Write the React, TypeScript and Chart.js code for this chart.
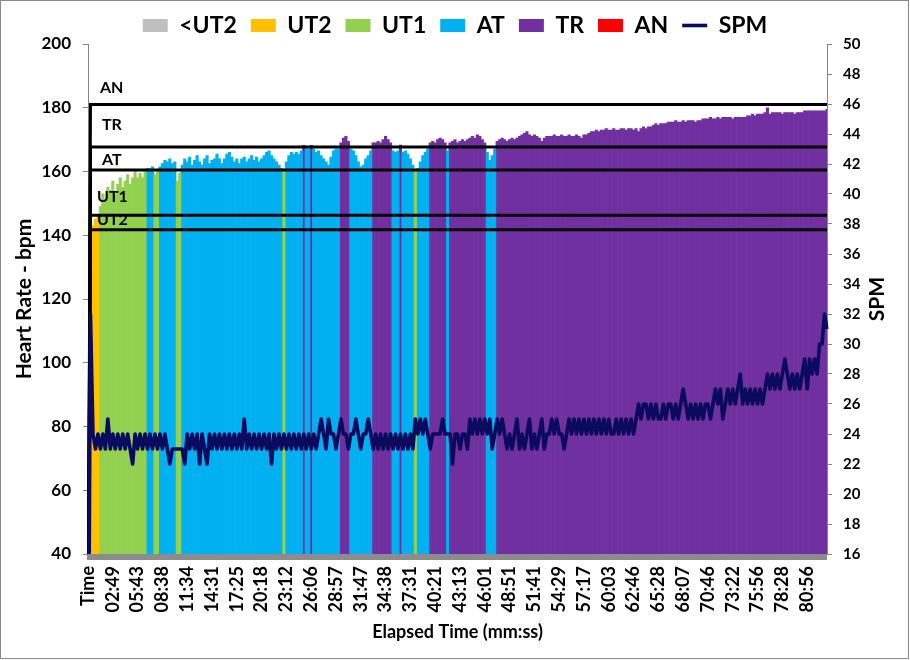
import React, { useEffect, useRef } from 'react';
import { Chart, registerables } from 'chart.js';

Chart.register(...registerables);

const FONT = 'Lato, "Noto Sans", sans-serif';

// ---- data ----
const TICK_LABELS = [
  'Time', '02:49', '05:43', '08:38', '11:34', '14:31', '17:25', '20:18', '23:12', '26:06',
  '28:57', '31:47', '34:38', '37:31', '40:21', '43:13', '46:01', '48:51', '51:41', '54:29',
  '57:17', '60:03', '62:46', '65:28', '68:07', '70:46', '73:22', '75:56', '78:28', '80:56',
];
const TICK_EVERY = 10;

// Heart rate (bpm); first row is the "Time" header row
const HEART_RATE: (number | null)[] = [
  null, 128, 143, 145, 146, 149, 153, 151, 155, 154,
  157, 153, 156, 158, 155, 157, 159, 156, 158, 160,
  158, 159.5, 158, 160, 161, 160.8, 161.5, 159, 160, 161.5,
  162.5, 163.5, 163, 164, 162.5, 163, 157, 159.5, 162, 164,
  163, 164.5, 162, 163.5, 165, 163, 162, 164, 165, 162.5,
  163.5, 164, 165.5, 164, 162.5, 164, 165.5, 166, 164.5, 163,
  164, 162.5, 164, 164.5, 163, 164, 165, 163.5, 164.5, 163,
  164, 165, 166, 166.5, 165, 164, 163, 162, 161, 160.2,
  163, 165, 166, 165.5, 166, 165.5, 166.5, 168.2, 167.2, 167,
  168.2, 167, 166, 166.5, 165, 164, 163, 162, 164.5, 166.5,
  167, 167, 169, 170.5, 171, 169.5, 167, 166.5, 165, 163,
  161.5, 162, 164, 165, 166.5, 169, 169, 169.5, 169, 170,
  171, 170, 169, 166.5, 166, 166.5, 168.3, 166, 166.5, 165.5,
  164, 162, 160.3, 161, 163, 165, 166, 167, 169, 169.5,
  169, 170, 170.5, 170, 169, 166.5, 169, 169.5, 170, 169,
  169.5, 170, 169.5, 170, 170.5, 171, 170.5, 171.5, 171, 170,
  169, 166, 163.5, 165, 167, 169.5, 170, 170.5, 170, 169.5,
  170, 170.5, 170, 170.5, 171, 171.5, 172, 172.5, 171.5, 171,
  171.5, 171, 170.5, 169.5, 170.5, 171, 171, 171, 171.5, 171,
  171, 171.5, 171, 171, 171.5, 171, 171, 171.5, 171, 170.5,
  171.5, 171.5, 172, 172.5, 172.5, 173, 172.5, 173, 173, 173.5,
  173, 173, 173.5, 173, 173, 173.5, 173.5, 173, 173.5, 173.5,
  173, 173.5, 172.5, 173.5, 174, 173.5, 174, 174, 174.5, 175,
  174.5, 175, 175, 175, 175.5, 175.5, 175.5, 176, 175.5, 175.5,
  176, 175.5, 176, 176, 176, 175.5, 176, 176, 176.5, 176.5,
  176.5, 177, 176.5, 176.5, 177, 176.5, 177, 177, 177, 177,
  176.5, 177, 177, 177, 177, 177, 177.5, 177.5, 178, 177.5,
  178, 178, 178, 178.5, 180, 178, 178.5, 178.5, 178.5, 178.5,
  178, 178.5, 178.5, 178.5, 178.5, 178, 178.5, 178.5, 178.5, 179,
  179, 179, 179, 179, 179, 179, 179, 179, 179.5,
];

// Strokes per minute; first row is the "Time" header row (reads as 0)
const SPM: number[] = [
  0, 32, 24, 23, 24, 23, 24, 23, 25, 23,
  24, 23, 24, 23, 24, 23, 24, 23, 22, 24,
  23, 24, 23, 24, 23, 24, 23, 24, 23, 24,
  23, 24, 23, 22, 23, 23, 23, 23, 23, 22,
  24, 23, 24, 23, 24, 22, 24, 23, 22, 24,
  23, 24, 23, 24, 23, 24, 23, 24, 23, 24,
  23, 24, 23, 25, 23, 24, 23, 24, 23, 24,
  23, 24, 23, 24, 22, 24, 23, 24, 23, 24,
  23, 24, 23, 24, 23, 24, 23, 24, 23, 24,
  23, 24, 23, 24, 25, 24, 23, 25, 24, 24,
  23, 24, 25, 24, 24, 23, 24, 24, 25, 24,
  23, 24, 24, 25, 24, 23, 24, 23, 24, 23,
  24, 23, 24, 23, 24, 23, 24, 23, 24, 23,
  24, 23, 25, 24, 25, 24, 25, 24, 23, 24,
  24, 24, 24, 25, 24, 24, 24, 22, 24, 24,
  23, 24, 24, 23, 25, 24, 25, 24, 25, 24,
  25, 24, 25, 23, 24, 25, 24, 25, 24, 23,
  24, 23, 24, 25, 23, 24, 23, 24, 25, 23,
  24, 23, 24, 25, 23, 24, 24, 25, 24, 25,
  24, 24, 23, 24, 25, 24, 25, 24, 25, 24,
  25, 24, 25, 24, 25, 24, 25, 24, 25, 24,
  25, 24, 24, 25, 24, 25, 24, 25, 24, 25,
  24, 25, 26, 25, 26, 26, 25, 26, 25, 26,
  25, 25, 26, 25, 26, 26, 25, 26, 25, 26,
  27, 26, 25, 26, 25, 26, 25, 26, 25, 26,
  26, 25, 26, 27, 26, 27, 25, 26, 27, 26,
  27, 26, 27, 28, 26, 27, 26, 27, 26, 27,
  26, 27, 26, 27, 28, 27, 28, 27, 28, 27,
  28, 29, 28, 27, 28, 27, 28, 27, 28, 29,
  27, 29, 28, 29, 28, 30, 30, 32, 31,
];

const ZONE_NAMES = ['<UT2', 'UT2', 'UT1', 'AT', 'TR', 'AN'];
const ZONE_COLORS = ['#BFBFBF', '#FFC000', '#92D050', '#00B0F0', '#7030A0', '#FF0000'];
const ZONE_FLOORS = [0, 141.7, 146.3, 160.5, 167.7, 181]; // lower bpm bound of each zone
const ZONE_LINES = [181, 167.7, 160.5, 146.3, 141.7];

const HR_MIN = 40, HR_MAX = 200, HR_STEP = 20;
const SPM_MIN = 16, SPM_MAX = 50, SPM_STEP = 2;

const SPM_COLOR = '#0a0a5e';
const AXIS_GREY = '#868686';

// ---- derived tables ----
const CATEGORIES = HEART_RATE.map((_, i) => (i % TICK_EVERY === 0 ? TICK_LABELS[i / TICK_EVERY] ?? '' : ''));

const zoneOf = (v: number) => {
  let k = 0;
  ZONE_FLOORS.forEach((f, i) => { if (v >= f) k = i; });
  return k;
};

const zoneLabelPlugin = {
  id: 'zoneLabels',
  afterDatasetsDraw(chart: any) {
    const { ctx, chartArea, scales } = chart;
    const labels = [
      { text: 'AN', hr: 186.4, dx: 12 },
      { text: 'TR', hr: 174.5, dx: 14 },
      { text: 'AT', hr: 163.6, dx: 14 },
      { text: 'UT1', hr: 152.2, dx: 9 },
      { text: 'UT2', hr: 144.9, dx: 9 },
    ];
    ctx.save();
    ctx.fillStyle = '#000';
    ctx.font = `bold 16px ${FONT}`;
    ctx.textBaseline = 'middle';
    ctx.textAlign = 'left';
    labels.forEach((l) => {
      ctx.fillText(l.text, chartArea.left + l.dx, scales.y.getPixelForValue(l.hr));
    });
    ctx.restore();
  },
};

const framePlugin = {
  id: 'frame',
  beforeDraw(chart: any) {
    const { ctx, width, height } = chart;
    ctx.save();
    ctx.fillStyle = '#fff';
    ctx.fillRect(0, 0, width, height);
    ctx.strokeStyle = '#8a8a8a';
    ctx.lineWidth = 1;
    ctx.strokeRect(0.5, 0.5, width - 2, height - 2);
    ctx.restore();
  },
  afterDraw(chart: any) {
    const { ctx, chartArea } = chart;
    ctx.save();
    // heavy grey category-axis line
    ctx.fillStyle = '#8c8c8c';
    ctx.fillRect(chartArea.left - 1, chartArea.bottom, chartArea.right - chartArea.left + 1, 6);
    // secondary axis title, rotated like the primary one (reads bottom to top)
    ctx.fillStyle = '#000';
    ctx.font = `bold 21px ${FONT}`;
    ctx.textAlign = 'center';
    ctx.textBaseline = 'middle';
    ctx.translate(chartArea.right + 50, (chartArea.top + chartArea.bottom) / 2);
    ctx.rotate(-Math.PI / 2);
    ctx.fillText('SPM', 0, 0);
    ctx.restore();
  },
};

const LEGEND_HEIGHT = 44;
const legendHeightPlugin = {
  id: 'legendHeight',
  afterInit(chart: any) {
    const legend = chart.legend;
    if (!legend) return;
    const originalFit = legend.fit;
    legend.fit = function (this: any) {
      originalFit.call(this);
      this.height = LEGEND_HEIGHT;
    };
  },
};

export default function App() {
  const canvasRef = useRef<HTMLCanvasElement | null>(null);

  useEffect(() => {
    if (!canvasRef.current) return;

    const barSets = ZONE_NAMES.map((name, k) => ({
      type: 'bar' as const,
      label: name,
      data: HEART_RATE.map((v) => (v != null && zoneOf(v) === k ? v : null)),
      backgroundColor: ZONE_COLORS[k],
      borderWidth: 0,
      grouped: false,
      barPercentage: 1,
      categoryPercentage: 1,
      yAxisID: 'y',
      order: 3,
      pointStyle: 'rect',
      clip: 0,
    }));

    const spmSet = {
      type: 'line' as const,
      label: 'SPM',
      data: SPM,
      borderColor: SPM_COLOR,
      backgroundColor: SPM_COLOR,
      borderWidth: 3.6,
      borderJoinStyle: 'round' as const,
      pointRadius: 0,
      tension: 0,
      yAxisID: 'y1',
      order: 1,
      pointStyle: 'line',
    };

    const zoneLineSets = ZONE_LINES.map((level) => ({
      type: 'line' as const,
      label: `zone ${level}`,
      data: HEART_RATE.map((_, i) => (i === 0 ? 0 : level)),
      borderColor: '#000',
      backgroundColor: '#000',
      borderWidth: 3,
      pointRadius: 0,
      tension: 0,
      yAxisID: 'y',
      order: 2,
    }));

    const boldFont = (size: number) => ({ family: FONT, size, weight: 'bold' as const });

    const chart = new Chart(canvasRef.current, {
      type: 'bar',
      data: {
        labels: CATEGORIES,
        datasets: [...barSets, spmSet, ...zoneLineSets] as any,
      },
      options: {
        responsive: false,
        animation: false,
        events: [],
        layout: { padding: 0 },
        plugins: {
          legend: {
            position: 'top',
            labels: {
              usePointStyle: true,
              pointStyleWidth: 25,
              boxHeight: 13,
              padding: 14,
              color: '#000',
              font: boldFont(23),
              filter: (item: any) => item.datasetIndex <= ZONE_NAMES.length,
              sort: (a: any, b: any) => a.datasetIndex - b.datasetIndex,
            },
          },
          tooltip: { enabled: false },
        },
        scales: {
          x: {
            type: 'category',
            offset: false,
            grid: { display: false, drawTicks: false },
            border: { display: false },
            ticks: {
              autoSkip: false,
              minRotation: 90,
              maxRotation: 90,
              padding: 12,
              color: '#000',
              font: boldFont(18),
              callback: (_v: any, i: number) => CATEGORIES[i] || null,
            },
            title: {
              display: true,
              text: 'Elapsed Time (mm:ss)',
              color: '#000',
              font: boldFont(18),
              padding: { top: 0, bottom: 17 },
            },
            afterFit: (s: any) => { s.height = 106; },
          },
          y: {
            type: 'linear',
            position: 'left',
            min: HR_MIN,
            max: HR_MAX,
            ticks: { stepSize: HR_STEP, padding: 12, color: '#000', font: boldFont(17) },
            grid: { drawOnChartArea: false, drawTicks: true, tickLength: 5, color: AXIS_GREY },
            border: { color: AXIS_GREY, width: 1 },
            title: {
              display: true,
              text: 'Heart Rate - bpm',
              color: '#000',
              font: boldFont(21),
              padding: { top: 12, bottom: 0 },
            },
            afterFit: (s: any) => { s.width = 88; },
          },
          y1: {
            type: 'linear',
            position: 'right',
            min: SPM_MIN,
            max: SPM_MAX,
            ticks: { stepSize: SPM_STEP, padding: 11, color: '#000', font: boldFont(15) },
            grid: { drawOnChartArea: false, drawTicks: true, tickLength: 5, color: AXIS_GREY },
            border: { color: AXIS_GREY, width: 1 },
            title: { display: false },
            afterFit: (s: any) => { s.width = 83; },
          },
        },
      } as any,
      plugins: [framePlugin, legendHeightPlugin, zoneLabelPlugin],
    });

    return () => chart.destroy();
  }, []);

  return (
    <>
      <style>{'body{margin:0}'}</style>
      <div style={{ width: 910, height: 660 }}>
        <canvas ref={canvasRef} width={910} height={660} style={{ display: 'block' }} />
      </div>
    </>
  );
}
